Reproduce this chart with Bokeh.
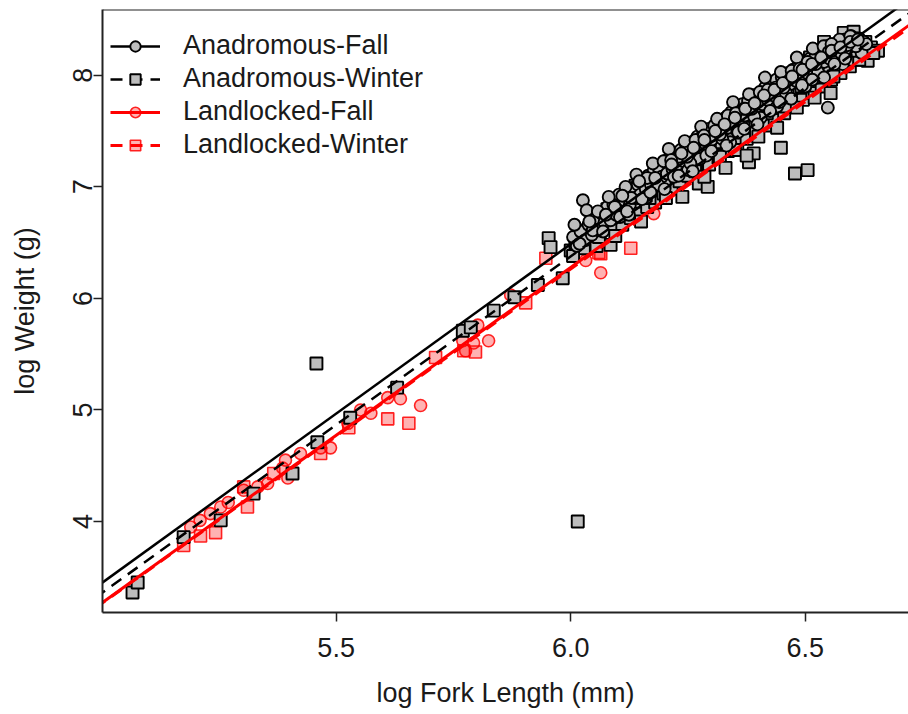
from bokeh.plotting import figure
from bokeh.models import Range1d, FixedTicker, Legend, LegendItem, Span
from bokeh.embed import file_html
from bokeh.resources import INLINE

# ---------------- data ----------------
series_names = ["Anadromous-Fall", "Anadromous-Winter", "Landlocked-Fall", "Landlocked-Winter"]

# Anadromous - Fall (circles)
af_x = [6.005, 6.013, 6.021, 6.026, 6.030, 6.038, 6.045, 6.052, 6.060, 6.066, 6.072, 6.078,
        6.085, 6.091, 6.097, 6.103, 6.108, 6.114, 6.120, 6.126, 6.131, 6.137, 6.143, 6.148,
        6.154, 6.160, 6.165, 6.171, 6.177, 6.183, 6.188, 6.194, 6.200, 6.205, 6.211, 6.217,
        6.222, 6.228, 6.234, 6.240, 6.246, 6.252, 6.258, 6.264, 6.270, 6.276, 6.282, 6.288,
        6.294, 6.300, 6.306, 6.312, 6.318, 6.324, 6.330, 6.336, 6.342, 6.348, 6.354, 6.360,
        6.366, 6.372, 6.378, 6.384, 6.390, 6.396, 6.402, 6.408, 6.414, 6.420, 6.426, 6.432,
        6.438, 6.444, 6.450, 6.456, 6.462, 6.468, 6.474, 6.480, 6.486, 6.492, 6.498, 6.504,
        6.510, 6.516, 6.522, 6.528, 6.534, 6.540, 6.546, 6.548, 6.552, 6.558, 6.564, 6.570,
        6.576, 6.582, 6.590, 6.598, 6.606, 6.615, 6.625, 6.340, 6.440, 6.500, 6.250, 6.160,
        6.580, 6.620, 6.460, 6.355, 6.275, 6.405, 6.525,
        6.008, 6.019, 6.034, 6.047, 6.058, 6.069, 6.081, 6.094, 6.105, 6.117, 6.129, 6.140,
        6.152, 6.163, 6.175, 6.186, 6.198, 6.209, 6.220, 6.231, 6.243, 6.255, 6.266, 6.278,
        6.289, 6.301, 6.312, 6.323, 6.335, 6.346, 6.357, 6.369, 6.380, 6.391, 6.403, 6.414,
        6.425, 6.437, 6.448, 6.459, 6.471, 6.482, 6.493, 6.505, 6.516, 6.527, 6.539, 6.550,
        6.562, 6.573, 6.585, 6.596, 6.608, 6.630,
        6.040, 6.075, 6.110, 6.146, 6.180, 6.214, 6.248, 6.284, 6.318, 6.352, 6.386, 6.420,
        6.454, 6.488, 6.522, 6.556, 6.590, 6.332, 6.398, 6.470, 6.540, 6.260, 6.200, 6.124,
        6.215, 6.236, 6.262, 6.285, 6.308, 6.328, 6.350, 6.372, 6.392, 6.412, 6.434, 6.452,
        6.472, 6.494, 6.514, 6.534, 6.556, 6.575, 6.596, 6.612,
        6.230, 6.300, 6.370, 6.445, 6.515, 6.585, 6.120, 6.170]
af_y = [6.55, 6.47, 6.60, 6.88, 6.52, 6.66, 6.57, 6.72, 6.61, 6.76, 6.68, 6.82,
        6.70, 6.84, 6.75, 6.93, 6.80, 6.88, 6.96, 6.84, 6.99, 6.90, 7.02, 6.93,
        7.07, 6.98, 7.10, 7.02, 7.15, 7.05, 7.17, 7.09, 7.23, 7.12, 7.26, 7.16,
        7.30, 7.20, 7.33, 7.23, 7.37, 7.28, 7.40, 7.30, 7.45, 7.34, 7.47, 7.38,
        7.52, 7.42, 7.55, 7.47, 7.59, 7.50, 7.62, 7.53, 7.67, 7.57, 7.69, 7.61,
        7.74, 7.64, 7.77, 7.68, 7.82, 7.71, 7.84, 7.74, 7.89, 7.78, 7.91, 7.82,
        7.96, 7.85, 7.98, 7.89, 8.02, 7.92, 8.05, 7.95, 8.09, 7.99, 8.11, 8.02,
        8.15, 8.05, 8.18, 8.09, 8.22, 8.12, 8.26, 7.71, 8.15, 8.28, 8.18, 8.30,
        8.20, 8.32, 8.24, 8.35, 8.28, 8.33, 8.30, 7.40, 7.72, 7.90, 7.15, 6.90,
        8.10, 8.20, 7.80, 7.50, 7.25, 7.62, 7.98,
        6.66, 6.49, 6.79, 6.61, 6.78, 6.60, 6.91, 6.82, 6.73, 7.00, 6.90, 7.11,
        6.89, 7.08, 7.21, 7.02, 7.23, 7.34, 7.09, 7.27, 7.41, 7.21, 7.42, 7.54,
        7.28, 7.46, 7.61, 7.43, 7.64, 7.76, 7.49, 7.70, 7.83, 7.63, 7.85, 7.98,
        7.68, 7.89, 8.03, 7.84, 8.04, 8.16, 7.91, 8.12, 8.24, 8.03, 8.26, 8.21,
        8.10, 8.32, 8.23, 8.35, 8.26, 8.28,
        6.69, 6.75, 6.92, 7.05, 7.08, 7.24, 7.27, 7.46, 7.47, 7.66, 7.70, 7.87,
        7.89, 8.06, 8.10, 8.28, 8.27, 7.37, 7.56, 7.79, 7.98, 7.14, 6.98, 6.75,
        7.20, 7.30, 7.35, 7.42, 7.50, 7.56, 7.62, 7.70, 7.75, 7.82, 7.87, 7.93,
        7.99, 8.05, 8.10, 8.16, 8.22, 8.25, 8.30, 8.32,
        7.10, 7.32, 7.52, 7.76, 7.96, 8.15, 6.78, 6.95]

# Anadromous - Winter (squares)
aw_x = [5.066, 5.077, 5.175, 5.254, 5.324, 5.407, 5.458, 5.460, 5.530, 5.630, 5.770, 5.787,
        5.836, 5.880, 5.930, 5.953, 5.957, 5.983, 6.015,
        6.000, 6.010, 6.018, 6.028, 6.043, 6.050, 6.062, 6.070, 6.085, 6.088, 6.100, 6.110,
        6.118, 6.128, 6.135, 6.145, 6.155, 6.163, 6.172, 6.180, 6.190, 6.198, 6.208, 6.215,
        6.225, 6.232, 6.242, 6.250, 6.260, 6.268, 6.273, 6.280, 6.292, 6.295, 6.305, 6.315,
        6.325, 6.335, 6.345, 6.355, 6.365, 6.375, 6.380, 6.385, 6.390, 6.395, 6.405, 6.415,
        6.425, 6.435, 6.445, 6.448, 6.455, 6.465, 6.475, 6.478, 6.485, 6.495, 6.505, 6.505,
        6.515, 6.525, 6.535, 6.540, 6.545, 6.554, 6.555, 6.565, 6.575, 6.582, 6.585, 6.595,
        6.603, 6.610, 6.620, 6.633, 6.640, 6.655,
        6.005, 6.025, 6.055, 6.078, 6.095, 6.115, 6.138, 6.150, 6.168, 6.185, 6.203, 6.220,
        6.238, 6.253, 6.265, 6.285, 6.300, 6.318, 6.330, 6.340, 6.350, 6.368, 6.375, 6.388,
        6.400, 6.418, 6.430, 6.440, 6.458, 6.470, 6.482, 6.498, 6.510, 6.520, 6.530, 6.548,
        6.560, 6.570, 6.590, 6.600, 6.615, 6.628, 6.645,
        6.245, 6.290, 6.322, 6.362, 6.398, 6.428, 6.462, 6.492, 6.526, 6.565, 6.598, 6.200,
        6.160, 6.120, 6.060]
aw_y = [3.363, 3.453, 3.86, 4.01, 4.25, 4.43, 5.417, 4.71, 4.93, 5.20, 5.71, 5.74,
        5.89, 6.01, 6.12, 6.54, 6.46, 6.18, 4.00,
        6.43, 6.50, 6.58, 6.45, 6.67, 6.53, 6.60, 6.70, 6.48, 6.64, 6.76, 6.66,
        6.80, 6.72, 6.86, 6.76, 6.90, 6.82, 6.95, 6.86, 7.00, 6.94, 7.06, 6.98,
        7.12, 7.05, 7.16, 7.10, 7.22, 7.15, 7.03, 7.27, 7.00, 7.20, 7.33, 7.26,
        7.38, 7.32, 7.45, 7.38, 7.50, 7.43, 7.22, 7.56, 7.30, 7.48, 7.62, 7.55,
        7.68, 7.60, 7.74, 7.35, 7.66, 7.80, 7.72, 7.12, 7.86, 7.78, 7.15, 7.92,
        7.84, 7.98, 7.90, 8.30, 8.04, 7.84, 7.96, 8.10, 8.02, 8.38, 8.16, 8.08,
        8.39, 8.20, 8.14, 8.13, 8.25, 8.22,
        6.38, 6.61, 6.47, 6.80, 6.56, 6.79, 7.01, 6.69, 6.90, 7.11, 6.90, 7.14,
        6.91, 7.38, 7.14, 7.09, 7.44, 7.27, 7.17, 7.60, 7.33, 7.53, 7.28, 7.82,
        7.45, 7.66, 7.89, 7.53, 7.72, 8.00, 7.71, 7.92, 8.16, 7.80, 7.98, 8.25,
        7.99, 8.27, 8.14, 8.33, 8.14, 8.30, 8.20,
        7.18, 7.31, 7.40, 7.55, 7.62, 7.72, 7.83, 7.90, 8.05, 8.20, 8.22, 7.04,
        6.92, 6.84, 6.55]

# Landlocked - Fall (circles)
lf_x = [5.190, 5.210, 5.232, 5.254, 5.270, 5.303, 5.333, 5.354, 5.386, 5.392, 5.397, 5.424,
        5.467, 5.488, 5.525, 5.552, 5.574, 5.610, 5.637, 5.631, 5.680, 5.770, 5.776, 5.793,
        5.802, 5.825, 5.872, 6.032, 6.064, 6.177, 6.203]
lf_y = [3.95, 4.01, 4.07, 4.13, 4.17, 4.28, 4.31, 4.34, 4.48, 4.55, 4.39, 4.61,
        4.66, 4.66, 4.88, 5.00, 4.97, 5.11, 5.10, 5.20, 5.04, 5.62, 5.53, 5.60,
        5.76, 5.62, 6.03, 6.34, 6.23, 6.76, 7.04]

# Landlocked - Winter (squares)
lw_x = [5.175, 5.211, 5.243, 5.303, 5.311, 5.367, 5.467, 5.527, 5.610, 5.655, 5.712, 5.772,
        5.797, 5.904, 5.947, 6.060, 6.064, 6.128, 6.154]
lw_y = [3.785, 3.87, 3.90, 4.31, 4.13, 4.43, 4.61, 4.84, 4.92, 4.88, 5.47, 5.53,
        5.52, 5.96, 6.36, 6.41, 6.40, 6.45, 6.92]

# fitted lines: y = intercept + slope * x
line_intercepts = [-11.753, -11.743, -11.782, -11.736]
line_slopes = [3.04, 3.02, 3.01, 3.00]

x_ticks = [5.5, 6.0, 6.5]
y_ticks = [4, 5, 6, 7, 8]

# ---------------- figure ----------------
X0, X1 = 5.002, 6.72
Y0, Y1 = 3.184, 8.59

p = figure(width=908, height=714, output_backend="svg", toolbar_location=None,
           x_range=Range1d(X0, X1), y_range=Range1d(Y0, Y1),
           min_border_left=102, min_border_right=0, min_border_top=9, min_border_bottom=102)
p.background_fill_color = "white"
p.border_fill_color = "white"
p.grid.visible = False
p.outline_line_color = None

FONT = "Liberation Sans"
TXT = "#1a1a1a"
EDGE = "#222222"
xax = p.below[0]
yax = p.left[0]
for ax in (xax, yax):
    ax.axis_line_color = EDGE
    ax.axis_line_width = 2
    ax.major_tick_in = 0
    ax.major_tick_out = 9
    ax.major_tick_line_color = EDGE
    ax.major_tick_line_width = 1.5
    ax.minor_tick_line_color = None
    ax.major_label_text_font = FONT
    ax.major_label_text_font_size = "27px"
    ax.major_label_text_color = TXT
    ax.axis_label_text_font = FONT
    ax.axis_label_text_font_size = "27px"
    ax.axis_label_text_font_style = "normal"
    ax.axis_label_text_color = TXT

# top edge of the box (no right edge visible in the reference)
p.add_layout(Span(location=Y1, dimension="width", line_color=EDGE, line_width=2))

xax.ticker = FixedTicker(ticks=x_ticks)
xax.major_label_overrides = {t: f"{t:.1f}" for t in x_ticks}
yax.ticker = FixedTicker(ticks=y_ticks)
xax.axis_label = "log Fork Length (mm)"
yax.axis_label = "log Weight (g)"
xax.major_label_standoff = 16
xax.axis_label_standoff = 18
yax.major_label_orientation = "vertical"
yax.major_label_standoff = 1
yax.axis_label_standoff = 31

GREY = "#bdbdbd"
RED = "#ff0000"

r_lw = p.scatter(lw_x, lw_y, marker="square", size=12, fill_color=RED, fill_alpha=0.3,
                 line_color=RED, line_alpha=0.85, line_width=1.6)
r_lf = p.scatter(lf_x, lf_y, marker="circle", size=12, fill_color=RED, fill_alpha=0.3,
                 line_color=RED, line_alpha=0.85, line_width=1.6)
r_aw = p.scatter(aw_x, aw_y, marker="square", size=12, fill_color=GREY,
                 line_color="black", line_width=1.9)
r_af = p.scatter(af_x, af_y, marker="circle", size=12, fill_color=GREY,
                 line_color="black", line_width=1.9)

styles = [("black", "solid", 2.5), ("black", "12 8", 2.5), (RED, "solid", 3), (RED, "12 8", 3)]
line_renderers = []
for a, b, (c, d, w) in zip(line_intercepts, line_slopes, styles):
    xs = [X0 - 0.05, X1 + 0.05]
    ys = [a + b * xx for xx in xs]
    line_renderers.append(p.line(xs, ys, line_color=c, line_width=w, line_dash=d))

pts = [r_af, r_aw, r_lf, r_lw]
items = [LegendItem(label=n, renderers=[lr, pr]) for n, lr, pr in zip(series_names, line_renderers, pts)]
legend = Legend(items=items, location=(8, 452), orientation="vertical",
                border_line_color=None, background_fill_alpha=0, margin=0, padding=0,
                glyph_width=50, glyph_height=26, label_height=31, spacing=2,
                label_standoff=23, label_text_font=FONT, label_text_font_size="27px",
                label_text_color=TXT)
p.add_layout(legend)

open("out.html", "w").write(file_html(p, INLINE))
